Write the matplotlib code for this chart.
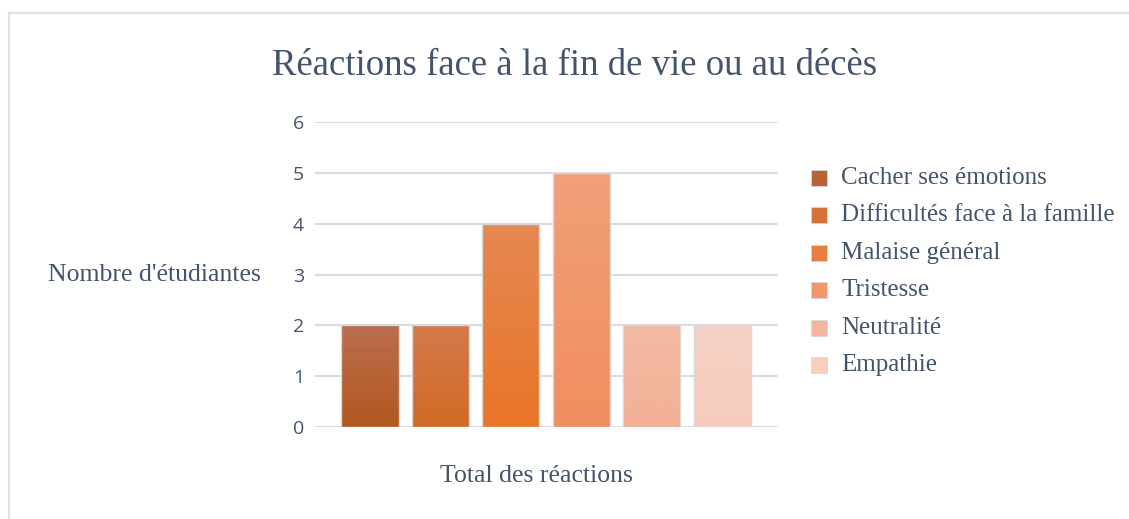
import numpy as np
import matplotlib.pyplot as plt
from matplotlib.patches import Rectangle
from matplotlib.colors import LinearSegmentedColormap, to_rgb

categories = ["Cacher ses émotions", "Difficultés face à la famille", "Malaise général",
              "Tristesse", "Neutralité", "Empathie"]
values = [2, 2, 4, 5, 2, 2]
top_colors = ["#bb6e4d", "#d57a4c", "#e58853", "#f0a079", "#f3baa3", "#f6d2c5"]
bottom_colors = ["#b2581f", "#d06a25", "#e97528", "#f28e5f", "#f3b096", "#f6cbbd"]

text_col = "#44546a"
grid_col = "#d9dde3"

fig = plt.figure(figsize=(11.29, 5.19), dpi=100)
ax = fig.add_axes([315 / 1129, (519 - 427) / 519, (778 - 315) / 1129, (427 - 122) / 519])

# chart border
fig.patches.append(Rectangle((9 / 1129, -0.1), 1.1, (519 - 13) / 519 + 0.1,
                             transform=fig.transFigure, fill=False,
                             edgecolor="#dde2e8", linewidth=1.5))

x = np.arange(len(values))
width = 0.81
bars = ax.bar(x, values, width=width, color="none", edgecolor="#d8d8d8", linewidth=1, zorder=3)

# vertical gradient fill for each bar
grad = np.linspace(0, 1, 256).reshape(-1, 1)
for b, c_top, c_bot in zip(bars, top_colors, bottom_colors):
    cmap = LinearSegmentedColormap.from_list("g", [c_bot, c_top])
    x0, y0 = b.get_x(), b.get_y()
    im = ax.imshow(grad, cmap=cmap, aspect="auto", origin="lower",
                   extent=[x0, x0 + b.get_width(), y0, y0 + b.get_height()], zorder=2)
    im.set_clip_path(b)

ax.set_xlim(-0.78, 5.79)
ax.set_ylim(0, 6)
ax.set_yticks(range(7))
ax.set_xticks([])
ax.grid(axis="y", color=grid_col, linewidth=1.5, zorder=0)
ax.set_axisbelow(True)
for s in ax.spines.values():
    s.set_visible(False)
ax.tick_params(axis="y", length=0, pad=8, labelsize=14, labelcolor=text_col)
for lab in ax.get_yticklabels():
    lab.set_fontfamily("Open Sans")

fig.text(575 / 1129, 1 - 66 / 519, "Réactions face à la fin de vie ou au décès",
         ha="center", va="center", fontsize=26.5, color=text_col, family="Liberation Serif")
fig.text(48 / 1129, 1 - 275 / 519, "Nombre d'étudiantes", ha="left", va="center",
         fontsize=18.5, color=text_col, family="Liberation Serif")
fig.text(536 / 1129, 1 - 476 / 519, "Total des réactions", ha="center", va="center",
         fontsize=18.5, color=text_col, family="Liberation Serif")

# legend
for i, (cat, c_top, c_bot) in enumerate(zip(categories, top_colors, bottom_colors)):
    yy = 1 - (178 + i * 37.4) / 519
    mid = tuple((np.array(to_rgb(c_top)) + np.array(to_rgb(c_bot))) / 2)
    fig.patches.append(Rectangle((811 / 1129, yy - 8 / 519), 16 / 1129, 16 / 519,
                                 transform=fig.transFigure, facecolor=mid,
                                 edgecolor="#d8d8d8", linewidth=0.6))
    fig.text(841 / 1129, yy, cat, ha="left", va="center", fontsize=18,
             color=text_col, family="Liberation Serif")

fig.savefig("out.png", dpi=100, facecolor="white")
